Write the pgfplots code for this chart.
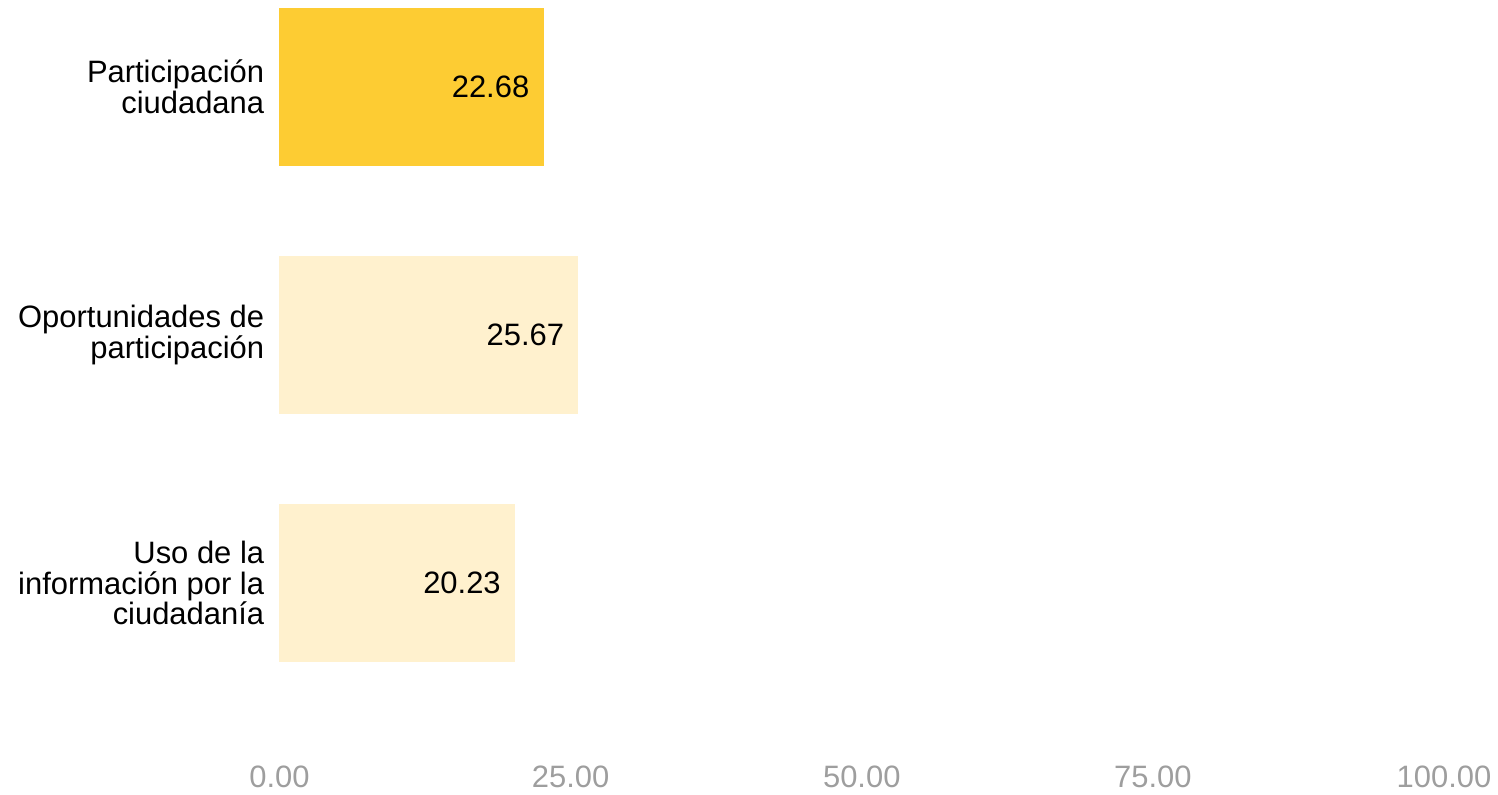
\documentclass[border=0pt]{standalone}
\usepackage{pgfplots}
\pgfplotsset{compat=1.18}
\usepackage{fontspec}
\setmainfont{Liberation Sans}
\definecolor{barstrong}{HTML}{FDCC33}
\definecolor{barlight}{HTML}{FFF1CE}
\definecolor{tickgray}{HTML}{9E9E9E}
\begin{document}
\begin{tikzpicture}
\begin{axis}[
    scale only axis,
    width=583.5pt, height=375pt,
    xmin=0, xmax=100,
    ymin=-0.35, ymax=2.668,
    y dir=reverse,
    xbar, bar width=0.64, bar shift=0pt,
    axis line style={draw=none},
    major tick length=0pt,
    xtick={0,25,50,75,100},
    ytick={0,1,2},
    yticklabels={{Participación\\ciudadana},{Oportunidades de\\participación},{Uso de la\\información por la\\ciudadanía}},
    font=\fontsize{15.5}{15.5}\selectfont,
    /pgf/number format/assume math mode=true,
    xticklabel={\pgfmathprintnumber[fixed,fixed zerofill,precision=2]{\tick}},
    xticklabel style={anchor=center, yshift=-14pt, text=tickgray},
    yticklabel style={anchor=east, align=right, inner xsep=0pt, xshift=-7.5pt},
    nodes near coords={\pgfmathprintnumber[fixed,fixed zerofill,precision=2]{\pgfplotspointmeta}},
    point meta=x,
    every node near coord/.append style={anchor=east, inner xsep=0pt, xshift=-7pt, text=black},
    clip=false,
]
\addplot[fill=barstrong, draw=none] coordinates {(22.68,0)};
\addplot[fill=barlight, draw=none] coordinates {(25.67,1)};
\addplot[fill=barlight, draw=none] coordinates {(20.23,2)};
\path (axis cs:-24,-0.35) rectangle (axis cs:104.37,2.841);
\end{axis}
\end{tikzpicture}
\end{document}
